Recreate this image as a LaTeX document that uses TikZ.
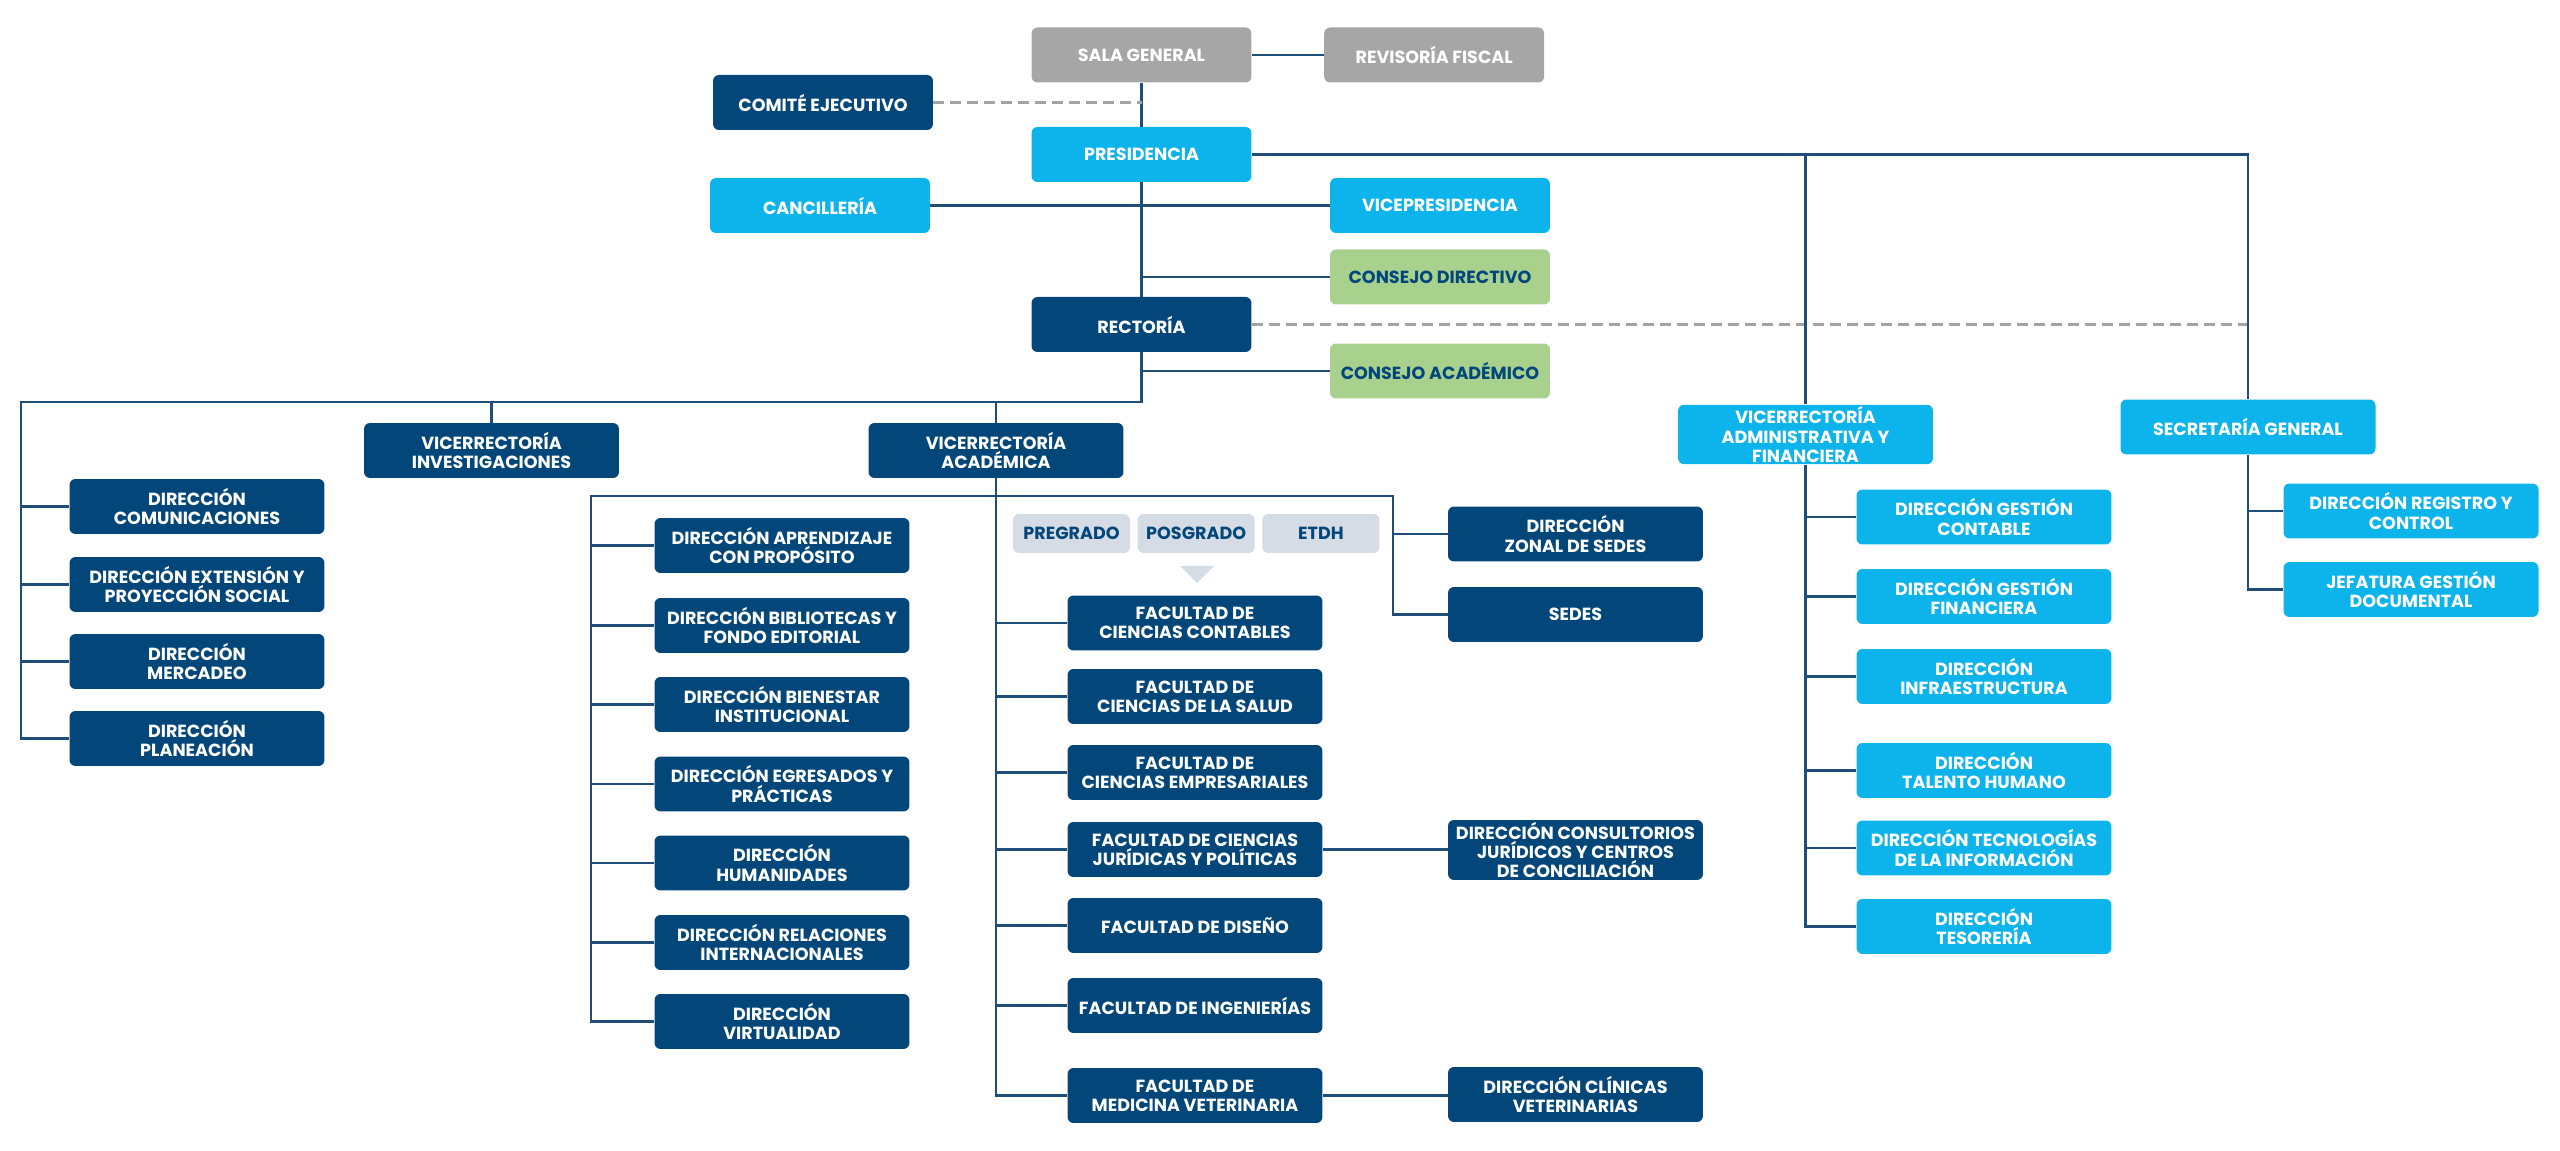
\documentclass[tikz,border=0pt]{standalone}
\usepackage{fontspec}
\setmainfont{Poppins}
\usepackage{tikz}
\usepackage{xcolor}
\usetikzlibrary{calc}
\usetikzlibrary{positioning}

\definecolor{darkBlue}{HTML}{03467A}
\definecolor{lightBlue}{HTML}{0DB4EC}
\definecolor{boardGrey}{HTML}{A6A6A6}
\definecolor{councilGreen}{HTML}{A9D18E}
\definecolor{tagFill}{HTML}{D6DCE5}
\definecolor{lineBlue}{HTML}{1F4E79}
\definecolor{dashGrey}{HTML}{A3A3A3}

\begin{document}
\begin{tikzpicture}[x=0.02cm, y=-0.02cm]
            % Set primary nodes
            \tikzset{
                unit/.style={
                        rectangle,
                        rounded corners=0.12cm,
                        minimum height=1.1cm,
                        minimum width=5.1cm,
                        inner sep=1pt,
                        align=center,
                        font=\fontsize{10}{11}\selectfont\bfseries
                    }
            }
            \tikzset{
                darkUnit/.style={unit, fill=darkBlue, text=white}
            }
            \tikzset{
                lightUnit/.style={unit, fill=lightBlue, text=white}
            }
            \tikzset{
                boardUnit/.style={unit, minimum width=4.4cm, fill=boardGrey, text=white}
            }
            \tikzset{
                councilUnit/.style={unit, minimum width=4.4cm, fill=councilGreen, text=darkBlue}
            }
            \tikzset{
                tagNode/.style={unit, minimum width=2.34cm, minimum height=0.78cm, fill=tagFill, text=darkBlue}
            }
            % Configure lines
            \tikzset{conn/.style={draw=lineBlue, line width=1.6pt}}
            \tikzset{dashedLink/.style={draw=dashGrey, line width=1.5pt, dash pattern=on 0.22cm off 0.12cm}}
            \useasboundingbox (0,0) rectangle (2560,1151);
            % Placing nodes
            \node[boardUnit](sala) at (1141.5,55){SALA GENERAL};
            \node[boardUnit, right = 1.44cm of sala](revisoria){REVISORÍA FISCAL};
            \node[darkUnit, minimum width=4.4cm](comite) at (823,102.5){COMITÉ EJECUTIVO};
            \node[lightUnit, minimum width=4.4cm](presidencia) at (1141.5,154.5){PRESIDENCIA};
            \node[lightUnit, minimum width=4.4cm](cancilleria) at (820,205.5){CANCILLERÍA};
            \node[lightUnit, minimum width=4.4cm](vicepresidencia) at (1440,205.5){VICEPRESIDENCIA};
            \node[councilUnit](consejoDirectivo) at (1440,277){CONSEJO DIRECTIVO};
            \node[darkUnit, minimum width=4.4cm](rectoria) at (1141.5,324.5){RECTORÍA};
            \node[councilUnit](consejoAcademico) at (1440,371){CONSEJO ACADÉMICO};
            \node[darkUnit](comunicaciones) at (197,506.5){DIRECCIÓN\\COMUNICACIONES};
            \node[darkUnit](extension) at (197,584.5){DIRECCIÓN EXTENSIÓN Y\\PROYECCIÓN SOCIAL};
            \node[darkUnit](mercadeo) at (197,661.5){DIRECCIÓN\\MERCADEO};
            \node[darkUnit](planeacion) at (197,738.5){DIRECCIÓN\\PLANEACIÓN};
            \node[darkUnit](investigaciones) at (491.5,450.5){VICERRECTORÍA\\INVESTIGACIONES};
            \node[darkUnit](academica) at (996,450.5){VICERRECTORÍA\\ACADÉMICA};
            \node[darkUnit](aprendizaje) at (782,545.5){DIRECCIÓN APRENDIZAJE\\CON PROPÓSITO};
            \node[darkUnit](bibliotecas) at (782,625.5){DIRECCIÓN BIBLIOTECAS Y\\FONDO EDITORIAL};
            \node[darkUnit](bienestar) at (782,704.5){DIRECCIÓN BIENESTAR\\INSTITUCIONAL};
            \node[darkUnit](egresados) at (782,784){DIRECCIÓN EGRESADOS Y\\PRÁCTICAS};
            \node[darkUnit](humanidades) at (782,863){DIRECCIÓN\\HUMANIDADES};
            \node[darkUnit](relaciones) at (782,942.5){DIRECCIÓN RELACIONES\\INTERNACIONALES};
            \node[darkUnit](virtualidad) at (782,1021.5){DIRECCIÓN\\VIRTUALIDAD};
            \node[tagNode](pregrado) at (1071.5,533.5){PREGRADO};
            \node[tagNode, right = 0.14cm of pregrado](posgrado){POSGRADO};
            \node[tagNode, right = 0.14cm of posgrado](etdh){ETDH};
            \fill[tagFill] (1180,566) -- (1214,566) -- (1197,583) -- cycle;
            \node[darkUnit](contables) at (1195,623){FACULTAD DE\\CIENCIAS CONTABLES};
            \node[darkUnit](salud) at (1195,696.5){FACULTAD DE\\CIENCIAS DE LA SALUD};
            \node[darkUnit](empresariales) at (1195,772.5){FACULTAD DE\\CIENCIAS EMPRESARIALES};
            \node[darkUnit](juridicas) at (1195,849.5){FACULTAD DE CIENCIAS\\JURÍDICAS Y POLÍTICAS};
            \node[darkUnit](diseno) at (1195,925.5){FACULTAD DE DISEÑO};
            \node[darkUnit](ingenierias) at (1195,1005.5){FACULTAD DE INGENIERÍAS};
            \node[darkUnit](veterinaria) at (1195,1095.5){FACULTAD DE\\MEDICINA VETERINARIA};
            \node[darkUnit](zonal) at (1575.5,534){DIRECCIÓN\\ZONAL DE SEDES};
            \node[darkUnit](sedes) at (1575.5,614.5){SEDES};
            \node[darkUnit, minimum height=1.2cm](consultorios) at (1575.5,850){DIRECCIÓN CONSULTORIOS\\JURÍDICOS Y CENTROS\\DE CONCILIACIÓN};
            \node[darkUnit](clinicas) at (1575.5,1094.5){DIRECCIÓN CLÍNICAS\\VETERINARIAS};
            \node[lightUnit, minimum height=1.18cm](administrativa) at (1805.5,434.5){VICERRECTORÍA\\ADMINISTRATIVA Y\\FINANCIERA};
            \node[lightUnit](secretaria) at (2248,427){SECRETARÍA GENERAL};
            \node[lightUnit](contable) at (1984,517){DIRECCIÓN GESTIÓN\\CONTABLE};
            \node[lightUnit](financiera) at (1984,596.5){DIRECCIÓN GESTIÓN\\FINANCIERA};
            \node[lightUnit](infraestructura) at (1984,676.5){DIRECCIÓN\\INFRAESTRUCTURA};
            \node[lightUnit](talento) at (1984,770.5){DIRECCIÓN\\TALENTO HUMANO};
            \node[lightUnit](tecnologias) at (1984,848){DIRECCIÓN TECNOLOGÍAS\\DE LA INFORMACIÓN};
            \node[lightUnit](tesoreria) at (1984,926.5){DIRECCIÓN\\TESORERÍA};
            \node[lightUnit](registro) at (2411,511){DIRECCIÓN REGISTRO Y\\CONTROL};
            \node[lightUnit](jefatura) at (2411,589.5){JEFATURA GESTIÓN\\DOCUMENTAL};
            \coordinate(rectBus) at (21,402);
            \coordinate(acadLeft) at (591,496);
            \coordinate(acadRight) at (1393,496);
            % Draw lines
            \draw[conn](sala) -- (revisoria);
            \draw[conn](sala) -- (presidencia);
            \draw[conn](presidencia) -- (rectoria);
            \draw[conn](cancilleria) -- (vicepresidencia);
            \draw[conn](consejoDirectivo.west) -- (consejoDirectivo.west -| rectoria);
            \draw[conn](consejoAcademico.west) -- (consejoAcademico.west -| rectoria);
            \draw[dashedLink](comite.east) -- (comite.east -| sala);
            \draw[dashedLink](rectoria.east) -- (rectoria.east -| secretaria);
            \draw[conn](presidencia.east) -| (secretaria.north);
            \draw[conn](administrativa.north) -- (administrativa.north |- presidencia.east);
            \draw[conn](rectoria.south) |- (rectBus) |- (planeacion.west);
            \foreach \n in {comunicaciones, extension, mercadeo}
                \draw[conn](\n.west) -- (\n.west -| rectBus);
            \draw[conn](investigaciones.north) -- (investigaciones.north |- rectBus);
            \draw[conn](academica.north) -- (academica.north |- rectBus);
            \draw[conn](virtualidad.west) -| (acadLeft) -- (acadRight) |- (sedes.west);
            \foreach \n in {aprendizaje, bibliotecas, bienestar, egresados, humanidades, relaciones}
                \draw[conn](\n.west) -- (\n.west -| acadLeft);
            \draw[conn](zonal.west) -- (zonal.west -| acadRight);
            \draw[conn](academica.south) |- (veterinaria.west);
            \foreach \n in {contables, salud, empresariales, juridicas, diseno, ingenierias}
                \draw[conn](\n.west) -- (\n.west -| academica);
            \draw[conn](juridicas.east) -- (juridicas.east -| consultorios.west);
            \draw[conn](veterinaria.east) -- (veterinaria.east -| clinicas.west);
            \draw[conn](administrativa.south) |- (tesoreria.west);
            \foreach \n in {contable, financiera, infraestructura, talento, tecnologias}
                \draw[conn](\n.west) -- (\n.west -| administrativa);
            \draw[conn](secretaria.south) |- (jefatura.west);
            \draw[conn](registro.west) -- (registro.west -| secretaria);
        \end{tikzpicture}
\end{document}
